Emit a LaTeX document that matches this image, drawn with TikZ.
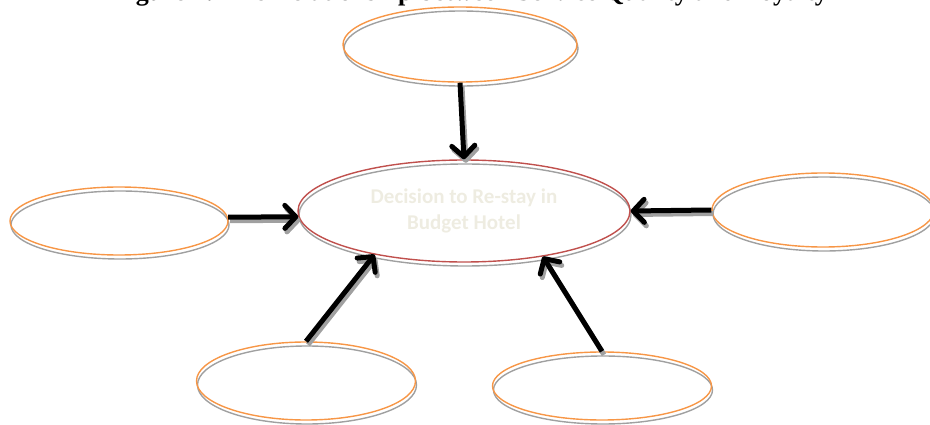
\documentclass[tikz,border=0pt]{standalone}
\usepackage{fontspec}
\setmainfont{Liberation Serif}
\newfontfamily\calibri{Carlito}
\usetikzlibrary{arrows.meta,shapes.geometric,shadows}
\definecolor{ring}{RGB}{247,150,70}
\definecolor{core}{RGB}{192,80,77}
\definecolor{shade}{RGB}{160,160,160}
\definecolor{pale}{RGB}{238,236,225}
\tikzset{
  every picture/.style={x=1pt, y=-1pt, line width=1.4pt},
  blob/.style={ellipse, draw=ring, inner sep=0pt,
    drop shadow={shadow xshift=1pt, shadow yshift=-4pt, opacity=1, fill=none, draw=shade, line width=1.4pt}},
  hubstyle/.style={blob, draw=core, text=pale, align=center,
    font=\calibri\bfseries\fontsize{21}{26}\selectfont},
  push/.style={line width=5pt, -{Straight Barb[length=11pt, width=23pt, line cap=round, line join=round]}},
  pushshade/.style={push, draw=shade, transform canvas={shift={(2pt,-3.5pt)}}},
}
\newcommand\link[2]{%
  \draw[pushshade] (#1) -- (#2);
  \draw[push] (#1) -- (#2);}

\begin{document}
\begin{tikzpicture}
  \useasboundingbox (0,0) rectangle (930,425);
  \clip (0,0) rectangle (930,425);
  % caption, cut by the top edge
  \node[anchor=base west, inner sep=0pt, font=\bfseries\fontsize{26}{30}\selectfont] (title) at (112,1)
    {Figure 1: The Relationship between Service Quality and Loyalty};
  % centre
  \node[hubstyle, minimum width=332pt, minimum height=102pt] (hub) at (464,211) {Decision to Re-stay in\\Budget Hotel};
  % the five factors
  \node[blob, minimum width=234pt, minimum height=75pt] (top) at (460,44.5) {};
  \node[blob, minimum width=218pt, minimum height=68pt] (lf) at (119,221) {};
  \node[blob, minimum width=222pt, minimum height=74pt] (rt) at (823,210) {};
  \node[blob, minimum width=219pt, minimum height=78pt] (bl) at (306,381) {};
  \node[blob, minimum width=219pt, minimum height=68pt] (br) at (602,386) {};
  % arrows into the centre
  \link{top.south}{hub.north}
  \link{lf.2}{hub.182}
  \link{rt.west}{hub.east}
  \link{bl.north}{hub.206}
  \link{br.north}{hub.330}
\end{tikzpicture}
\end{document}
